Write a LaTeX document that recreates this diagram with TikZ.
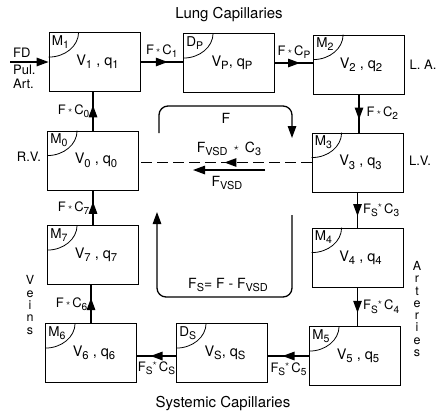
\documentclass[tikz,border=0pt]{standalone}
\usepackage{fontspec}
\setmainfont{TeX Gyre Heros}
\usepackage{tikz}
\usetikzlibrary{arrows.meta,decorations.markings}

\newcommand{\dn}[1]{\raisebox{-0.45ex}{\scalebox{0.78}{#1}}}
\newcommand{\fstar}{\,\raisebox{0.3ex}{\scalebox{0.7}{$\star$}}\,}
\newcommand{\upstar}{\raisebox{0.8ex}{\scalebox{0.7}{$\star$}}\,}
\newcommand{\cornerarc}[1]{\draw[line width=0.8pt] ([xshift=30pt]#1.north west) .. controls +(0pt,-14pt) and +(16.5pt,0pt) .. ([yshift=-25pt]#1.north west);}

\begin{document}
\begin{tikzpicture}[x=1pt,y=-1pt,
	comp/.style={draw,line width=0.8pt,minimum width=91pt,minimum height=59pt,inner sep=0pt,font=\fontsize{14.5}{16}\selectfont},
	cornertag/.style={anchor=north west,inner sep=0pt,font=\fontsize{13.5}{15}\selectfont},
	lbl/.style={inner sep=1pt,font=\fontsize{13}{15}\selectfont},
	big/.style={inner sep=1pt,font=\fontsize{14}{16}\selectfont},
	stack/.style={inner sep=0pt,align=center,font=\fontsize{12.5}{12.3}\selectfont},
	flow/.style={line width=1.3pt},
	endtip/.style={-{Triangle[length=12pt,width=8.5pt]}},
	midarrow/.style={decoration={markings,mark=at position #1 with {\arrow[xshift=6pt]{Triangle[length=12pt,width=8.5pt]}}},postaction={decorate}},
	midarrow/.default=0.5]
		
		\useasboundingbox (0,0) rectangle (438,415);
		
%		top row
		\node[comp] (m1) at (94.5,62) {\hspace{6pt}V\dn{1} , q\dn{1}};
		\node[comp] (dp) at (229,63) {\hspace{6pt}V\dn{P}, q\dn{P}};
		\node[comp] (m2) at (359,64.5) {\hspace{4pt}V\dn{2} , q\dn{2}};
%		right column
		\node[comp] (m3) at (357.5,162.5) {\hspace{6pt}V\dn{3} , q\dn{3}};
		\node[comp] (m4) at (357.5,257.5) {\hspace{6pt}V\dn{4} , q\dn{4}};
		\node[comp] (m5) at (355,356) {\hspace{6pt}V\dn{5} , q\dn{5}};
%		bottom row
		\node[comp] (ds) at (222,353) {\hspace{6pt}V\dn{S}, q\dn{S}};
		\node[comp] (m6) at (91,353) {\hspace{6pt}V\dn{6} , q\dn{6}};
%		left column
		\node[comp] (m7) at (93,255) {\hspace{6pt}V\dn{7} , q\dn{7}};
		\node[comp] (m0) at (93,160.5) {\hspace{6pt}V\dn{0} , q\dn{0}};
		
%		corner arcs
		\cornerarc{m1} \cornerarc{dp} \cornerarc{m2} \cornerarc{m3} \cornerarc{m4}
		\cornerarc{m5} \cornerarc{ds} \cornerarc{m6} \cornerarc{m7} \cornerarc{m0}
		\node[cornertag] (t1) at ([xshift=3pt,yshift=-3pt]m1.north west) {M\dn{1}};
		\node[cornertag] (tp) at ([xshift=3pt,yshift=-3pt]dp.north west) {D\dn{P}};
		\node[cornertag] (t2) at ([xshift=3pt,yshift=-3pt]m2.north west) {M\dn{2}};
		\node[cornertag] (t3) at ([xshift=3pt,yshift=-3pt]m3.north west) {M\dn{3}};
		\node[cornertag] (t4) at ([xshift=3pt,yshift=-3pt]m4.north west) {M\dn{4}};
		\node[cornertag] (t5) at ([xshift=3pt,yshift=-3pt]m5.north west) {M\dn{5}};
		\node[cornertag] (ts) at ([xshift=3pt,yshift=-3pt]ds.north west) {D\dn{S}};
		\node[cornertag] (t6) at ([xshift=3pt,yshift=-3pt]m6.north west) {M\dn{6}};
		\node[cornertag] (t7) at ([xshift=3pt,yshift=-3pt]m7.north west) {M\dn{7}};
		\node[cornertag] (t0) at ([xshift=3pt,yshift=-3pt]m0.north west) {M\dn{0}};
		
%		flows round the loop
		\draw[flow,midarrow] (m1.east) -- (m1.east -| dp.west) node[lbl,midway,above=3pt] (c1) {F\fstar C\dn{1}};
		\draw[flow,midarrow] (dp.east) -- (dp.east -| m2.west) node[lbl,midway,above=3pt] (cp) {F\fstar C\dn{P}};
		\draw[flow,midarrow] (m2.south) -- (m2.south |- m3.north) node[lbl,midway,right=6pt] (c2) {F\fstar C\dn{2}};
		\draw[flow,midarrow] (m3.south) -- (m3.south |- m4.north) node[lbl,midway,right=4pt] (c3) {F\dn{S}\upstar C\dn{3}};
		\draw[flow,midarrow] (m4.south) -- (m4.south |- m5.north) node[lbl,midway,right=4pt] (c4) {F\dn{S}\upstar C\dn{4}};
		\draw[flow,midarrow] (m5.west) -- (m5.west -| ds.east) node[lbl,midway,below=5pt] (c5) {F\dn{S}\upstar C\dn{5}};
		\draw[flow,midarrow] ([yshift=-3pt]ds.west) -- ([yshift=-3pt]ds.west -| m6.east) node[lbl,midway,below=4pt] (cs) {F\dn{S}\upstar C\dn{S}};
		\draw[flow,midarrow] (m6.north) -- (m6.north |- m7.south) node[lbl,midway,left=2pt] (c6) {F\fstar C\dn{6}};
		\draw[flow,midarrow] (m7.north) -- (m7.north |- m0.south) node[lbl,midway,left=2pt] (c7) {F\fstar C\dn{7}};
		\draw[flow,midarrow] (m0.north) -- (m0.north |- m1.south) node[lbl,midway,left=2pt] (c0) {F\fstar C\dn{0}};
		
%		inflow
		\coordinate (fdin) at (10,62);
		\draw[flow,endtip] (fdin) -- (m1.west);
		\node[lbl,anchor=west] (fd) at (12,53) {FD};
		\node[lbl,anchor=west] (pul) at (12,70) {Pul.};
		\node[lbl,anchor=west] (part) at (12,84) {Art.};
		
%		shunt
		\draw[flow,dash pattern=on 11pt off 5pt,midarrow=0.47] (m3.west) -- (m3.west -| m0.east);
		\coordinate (va) at (265,170);
		\coordinate (vb) at (193,170);
		\draw[flow,endtip] (va) -- (vb);
		\node[big] (lvc) at (229,149) {F\dn{VSD} \fstar\ C\dn{3}};
		\node[big] (lvsd) at (227,183) {F\dn{VSD}};
		
%		inner loops
		\coordinate (fa) at (159,133);
		\coordinate (fb) at (292,138);
		\draw[flow,endtip,rounded corners=9pt] (fa) -- ++(0,-27) -| (fb);
		\node[big] (lf) at (226,118) {F};
		\coordinate (fc) at (292,215);
		\coordinate (fe) at (157,212);
		\draw[flow,endtip,rounded corners=9pt] (fc) -- (292,297) -| (fe);
		\node[big] (lfs) at (228,285) {F\dn{S}= F - F\dn{VSD}};
		
%		outer labels
		\node[big,font=\fontsize{15}{17}\selectfont] (lung) at (229,15) {Lung Capillaries};
		\node[big,font=\fontsize{15}{17}\selectfont] (sysc) at (223,404) {Systemic Capillaries};
		\node[lbl] (la) at (423,65) {L. A.};
		\node[lbl] (lv) at (420,161) {L.V.};
		\node[lbl] (rv) at (29,157) {R.V.};
		\node[stack] (veins) at (30,305) {V\\e\\i\\n\\s};
		\node[stack] (arter) at (417,309) {A\\r\\t\\e\\r\\i\\e\\s};
		
\end{tikzpicture}
\end{document}
